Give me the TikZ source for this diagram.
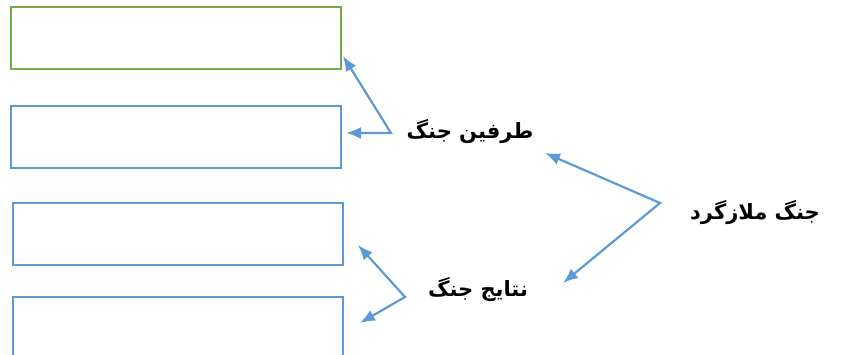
\documentclass[tikz,border=0pt]{standalone}
\usepackage{fontspec}
\usepackage{tikz}
\usetikzlibrary{arrows.meta, positioning}
\newfontfamily\arabicfont[Script=Arabic]{DejaVu Sans}
\TeXXeTstate=1
\definecolor{boxblue}{HTML}{5B9BD5}
\definecolor{boxgreen}{HTML}{70AD47}

\begin{document}
\begin{tikzpicture}[x=1pt,y=-1pt,>={Latex[length=15pt,width=12pt]},
 box/.style={draw=boxblue,line width=2.2pt,minimum width=330pt,minimum height=62pt,inner sep=0pt},
 tag/.style={font=\arabicfont\bfseries\fontsize{21}{25}\selectfont,inner sep=0pt},
 link/.style={<->,draw=boxblue,line width=2.2pt}]

  \useasboundingbox (0,0) rectangle (841,355);

  \node[box,draw=boxgreen] (b1) at (176,38) {};
  \node[box] (b2) at (176,137) {};
  \node[box] (b3) at (178,234) {};
  \node[box] (b4) at (178,328) {};

  \node[tag] (sides) at (470,132) {\beginR طرفین جنگ\endR};
  \node[tag] (result) at (478,290) {\beginR نتایج جنگ\endR};
  \node[tag] (battle) at (755,213) {\beginR جنگ ملازگرد\endR};

  % meeting points of the arrow pairs
  \coordinate (v1) at (391,133);
  \coordinate (v2) at (405,297);
  \coordinate (v3) at (660,203);
  % arrow tips
  \coordinate (t1) at (343,56);
  \coordinate (t2) at (346,133);
  \coordinate (t3) at (358,245);
  \coordinate (t4) at (360,323);
  \coordinate (t5) at (545,153);
  \coordinate (t6) at (563,283);

  \path[link] (t1) -- (v1) -- (t2);
  \path[link] (t3) -- (v2) -- (t4);
  \path[link] (t5) -- (v3) -- (t6);

\end{tikzpicture}
\end{document}
